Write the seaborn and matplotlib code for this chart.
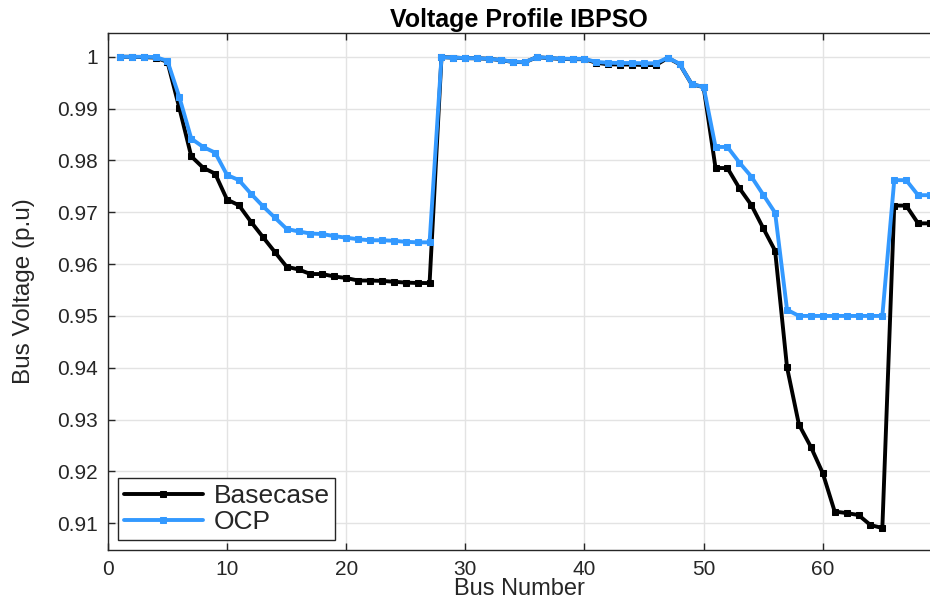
import numpy as np
import pandas as pd
import matplotlib
matplotlib.use('Agg')
import matplotlib.pyplot as plt
import seaborn as sns
from matplotlib.ticker import FormatStrFormatter

bus = list(range(1, 70))

basecase = [
    1.0000, 1.0000, 0.99993, 0.99984, 0.99902, 0.99009, 0.98079, 0.97858, 0.97745, 0.97245,
    0.97135, 0.96819, 0.96526, 0.96237, 0.95950, 0.95897, 0.95809, 0.95808, 0.95761, 0.95732,
    0.95683, 0.95683, 0.95676, 0.95660, 0.95643, 0.95636, 0.95634, 0.99993, 0.99985, 0.99973,
    0.99971, 0.99961, 0.99935, 0.99901, 0.99895, 0.99992, 0.99975, 0.99959, 0.99954, 0.99954,
    0.99884, 0.99855, 0.99851, 0.99850, 0.99841, 0.99840, 0.99979, 0.99854, 0.99470, 0.99415,
    0.97854, 0.97853, 0.97466, 0.97142, 0.96695, 0.96258, 0.94009, 0.92904, 0.92474, 0.91967,
    0.91226, 0.91197, 0.91159, 0.90966, 0.90908, 0.97129, 0.97129, 0.96786, 0.96786,
]

ocp = [
    1.0000, 1.0000, 1.0000, 0.99995, 0.99920, 0.99220, 0.98420, 0.98260, 0.98150, 0.97720,
    0.97620, 0.97360, 0.97120, 0.96900, 0.96680, 0.96630, 0.96590, 0.96580, 0.96540, 0.96510,
    0.96480, 0.96460, 0.96460, 0.96450, 0.96430, 0.96420, 0.96420, 0.99993, 0.99985, 0.99975,
    0.99972, 0.99962, 0.99937, 0.99905, 0.99898, 0.99993, 0.99978, 0.99963, 0.99960, 0.99960,
    0.99900, 0.99885, 0.99880, 0.99880, 0.99875, 0.99875, 0.99985, 0.99860, 0.99470, 0.99420,
    0.98260, 0.98260, 0.97960, 0.97690, 0.97340, 0.96990, 0.95120, 0.95000, 0.95000, 0.95000,
    0.95000, 0.95000, 0.95000, 0.95000, 0.95000, 0.97620, 0.97620, 0.97330, 0.97330,
]

df = pd.DataFrame({
    'Bus': bus + bus,
    'Voltage': basecase + ocp,
    'Case': ['Basecase'] * len(bus) + ['OCP'] * len(bus),
})

sns.set_theme(style='white')
plt.rcParams['font.family'] = ['Liberation Sans', 'DejaVu Sans']

fig = plt.figure(figsize=(9.3, 6.1), dpi=100)
ax = fig.add_axes([0.116, 0.098, 0.884, 0.848])

sns.lineplot(data=df, x='Bus', y='Voltage', hue='Case',
             palette={'Basecase': 'black', 'OCP': '#3399ff'},
             marker='s', markersize=4.5, linewidth=2.8, ax=ax)
# marker edges same colour as the line (MATLAB look)
for ln in ax.lines:
    ln.set_markeredgecolor(ln.get_color())

ax.set_xlim(0, 69)
ax.set_ylim(0.9048, 1.0046)
ax.set_xticks(range(0, 70, 10))
ax.set_yticks(np.arange(0.91, 1.001, 0.01))
ax.yaxis.set_major_formatter(FormatStrFormatter('%g'))

ax.grid(True, color='#e3e3e3', linewidth=1)
ax.tick_params(direction='in', length=5, width=1, colors='#262626',
               labelsize=15, top=True, right=False, bottom=True, left=True)
ax.tick_params(axis='x', pad=7)
ax.tick_params(axis='y', pad=7)
for s in ['left', 'bottom', 'top']:
    ax.spines[s].set_color('#262626')
    ax.spines[s].set_linewidth(1)
ax.spines['right'].set_visible(False)

ax.set_xlabel('Bus Number', fontsize=17, color='#262626', labelpad=-1)
ax.set_ylabel('Bus Voltage (p.u)', fontsize=17.5, color='#262626', labelpad=16)
ax.set_title('Voltage Profile IBPSO', fontsize=18, fontweight='bold',
             color='black', pad=4)

leg = ax.legend(loc='lower left', fontsize=19, frameon=True, fancybox=False,
                handlelength=3.0, handletextpad=0.4, borderpad=0.2,
                labelspacing=0.1, borderaxespad=0.4)
leg.get_frame().set_edgecolor('#262626')
leg.get_frame().set_linewidth(1)
leg.get_frame().set_alpha(1)
for line in leg.get_lines():
    line.set_linewidth(2.8)
    line.set_markeredgecolor(line.get_color())

fig.savefig('out.png', dpi=100)
